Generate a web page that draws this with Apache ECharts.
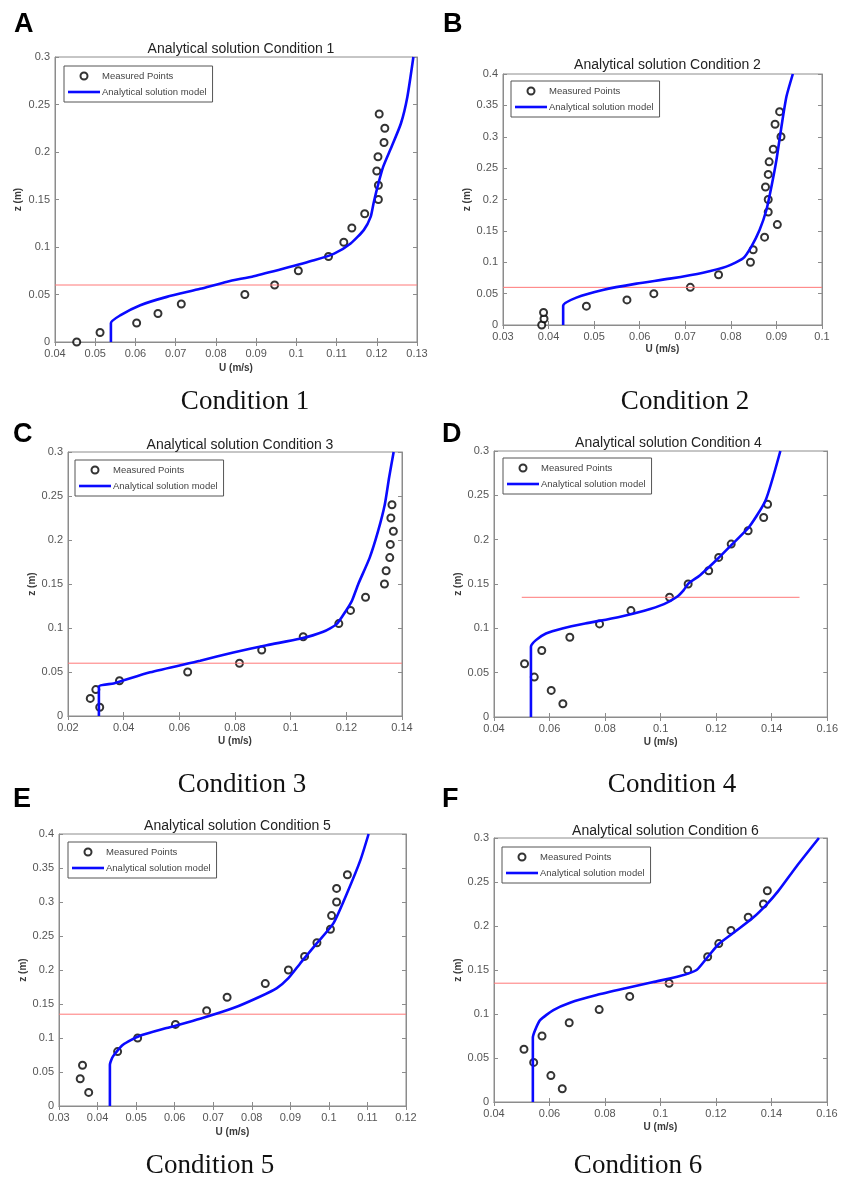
<!DOCTYPE html>
<html>
<head>
<meta charset="utf-8">
<script src="https://cdn.jsdelivr.net/npm/echarts@6/dist/echarts.min.js"></script>
<style>
  html, body { margin: 0; padding: 0; background: #fff; }
  #chart { width: 841px; height: 1183px; }
</style>
</head>
<body>
<div id="chart"></div>
<script>
// measured points, [U (m/s), z (m)]
const measured1 = [[0.0454,0],[0.0512,0.01],[0.0603,0.02],[0.0656,0.03],[0.0714,0.04],[0.0872,0.05],[0.0946,0.06],[0.1005,0.075],[0.108,0.09],[0.1118,0.105],[0.1138,0.12],[0.117,0.135],[0.1204,0.15],[0.1204,0.165],[0.12,0.18],[0.1203,0.195],[0.1218,0.21],[0.122,0.225],[0.1206,0.24]];
const measured2 = [[0.0385,0],[0.039,0.01],[0.0389,0.02],[0.0483,0.03],[0.0572,0.04],[0.0631,0.05],[0.0711,0.06],[0.0773,0.08],[0.0843,0.1],[0.0849,0.12],[0.0874,0.14],[0.0902,0.16],[0.0882,0.18],[0.0882,0.2],[0.0876,0.22],[0.0882,0.24],[0.0884,0.26],[0.0893,0.28],[0.091,0.3],[0.0897,0.32],[0.0907,0.34]];
const measured3 = [[0.0314,0.01],[0.028,0.02],[0.03,0.03],[0.0385,0.04],[0.063,0.05],[0.0816,0.06],[0.0896,0.075],[0.1045,0.09],[0.1173,0.105],[0.1215,0.12],[0.1269,0.135],[0.1337,0.15],[0.1343,0.165],[0.1356,0.18],[0.1358,0.195],[0.1369,0.21],[0.136,0.225],[0.1364,0.24]];
const measured4 = [[0.0648,0.015],[0.0606,0.03],[0.0545,0.045],[0.051,0.06],[0.0572,0.075],[0.0673,0.09],[0.078,0.105],[0.0893,0.12],[0.1032,0.135],[0.1099,0.15],[0.1173,0.165],[0.1209,0.18],[0.1254,0.195],[0.1315,0.21],[0.1371,0.225],[0.1385,0.24]];
const measured5 = [[0.0377,0.02],[0.0355,0.04],[0.0361,0.06],[0.0452,0.08],[0.0504,0.1],[0.0602,0.12],[0.0683,0.14],[0.0736,0.16],[0.0835,0.18],[0.0895,0.2],[0.0937,0.22],[0.0969,0.24],[0.1004,0.26],[0.1007,0.28],[0.102,0.3],[0.102,0.32],[0.1048,0.34]];
const measured6 = [[0.0646,0.015],[0.0605,0.03],[0.0543,0.045],[0.0508,0.06],[0.0573,0.075],[0.0671,0.09],[0.0779,0.105],[0.0889,0.12],[0.1031,0.135],[0.1098,0.15],[0.117,0.165],[0.121,0.18],[0.1254,0.195],[0.1316,0.21],[0.1371,0.225],[0.1385,0.24]];

// analytical solution curves, [U (m/s), z (m)]
const model1 = [[0.0539,0],[0.0539,0.02],[0.0562,0.028],[0.0612,0.0387],[0.0678,0.0475],[0.0761,0.056],[0.0828,0.0635],[0.0894,0.0693],[0.0969,0.0774],[0.1044,0.086],[0.1094,0.093],[0.1135,0.1037],[0.1168,0.118],[0.1185,0.132],[0.1192,0.146],[0.1202,0.1636],[0.1216,0.1846],[0.1237,0.2058],[0.126,0.23],[0.1276,0.258],[0.1291,0.3]];
const model2 = [[0.0432,0],[0.0432,0.0308],[0.0461,0.0436],[0.0519,0.0558],[0.0593,0.0659],[0.0666,0.0739],[0.0739,0.0834],[0.079,0.093],[0.0827,0.1063],[0.0845,0.125],[0.0863,0.1514],[0.0878,0.1833],[0.0889,0.2205],[0.09,0.263],[0.0911,0.316],[0.0922,0.364],[0.0936,0.4]];
const model3 = [[0.0311,0],[0.0311,0.0333],[0.0364,0.037],[0.0495,0.0496],[0.0675,0.0628],[0.0794,0.0722],[0.0914,0.0805],[0.1033,0.0877],[0.1117,0.0957],[0.1165,0.1044],[0.12,0.1203],[0.1221,0.1316],[0.1243,0.15],[0.1284,0.18],[0.1314,0.21],[0.1338,0.24],[0.1354,0.2716],[0.137,0.3]];
const model4 = [[0.0533,0],[0.0533,0.0792],[0.0551,0.0867],[0.0587,0.0942],[0.0646,0.0999],[0.0728,0.1055],[0.0847,0.1126],[0.0941,0.1198],[0.1012,0.1273],[0.1059,0.1356],[0.1083,0.1431],[0.11,0.1506],[0.1142,0.16],[0.1201,0.177],[0.126,0.1956],[0.1319,0.2145],[0.1378,0.2445],[0.1431,0.3]];
const model5 = [[0.0432,0],[0.0432,0.0607],[0.044,0.073],[0.0466,0.09],[0.051,0.1033],[0.0579,0.1146],[0.0666,0.1283],[0.0752,0.144],[0.0822,0.1611],[0.0865,0.1734],[0.0895,0.188],[0.0926,0.21],[0.0969,0.2395],[0.1012,0.269],[0.1047,0.313],[0.1082,0.362],[0.1103,0.4]];
const model6 = [[0.054,0],[0.054,0.0733],[0.0548,0.0816],[0.0566,0.093],[0.0614,0.1044],[0.0674,0.1128],[0.077,0.1215],[0.0878,0.1295],[0.0974,0.1363],[0.107,0.1431],[0.113,0.15],[0.117,0.1648],[0.121,0.1796],[0.1274,0.1948],[0.1334,0.2096],[0.1382,0.2244],[0.1424,0.2396],[0.149,0.2677],[0.1571,0.3]];

// red reference heights
const refLine1 = [[0.04,0.06],[0.13,0.06]];
const refLine2 = [[0.03,0.06],[0.1,0.06]];
const refLine3 = [[0.02,0.06],[0.14,0.06]];
const refLine4 = [[0.05,0.135],[0.15,0.135]];
const refLine5 = [[0.03,0.135],[0.12,0.135]];
const refLine6 = [[0.04,0.135],[0.16,0.135]];

// axis ranges [min, max, step]
const xRanges = [[0.04,0.13,0.01],[0.03,0.1,0.01],[0.02,0.14,0.02],[0.04,0.16,0.02],[0.03,0.12,0.01],[0.04,0.16,0.02]];
const yRanges = [[0,0.3,0.05],[0,0.4,0.05],[0,0.3,0.05],[0,0.3,0.05],[0,0.4,0.05],[0,0.3,0.05]];

const titles = ['Analytical solution Condition 1','Analytical solution Condition 2','Analytical solution Condition 3','Analytical solution Condition 4','Analytical solution Condition 5','Analytical solution Condition 6'];
const captions = ['Condition 1','Condition 2','Condition 3','Condition 4','Condition 5','Condition 6'];
const letters = ['A','B','C','D','E','F'];

const measured = [measured1, measured2, measured3, measured4, measured5, measured6];
const models = [model1, model2, model3, model4, model5, model6];
const refLines = [refLine1, refLine2, refLine3, refLine4, refLine5, refLine6];

// layout per panel
const layout = [
  { grid: [55, 57, 362, 285], titleTop: 37, legend: [64, 66], cap: [245, 402], letter: [14, 11], xGap: 21, yGap: 32 },
  { grid: [503, 74, 319, 251], titleTop: 53, legend: [511, 81], cap: [685, 402], letter: [443, 11], xGap: 19, yGap: 27 },
  { grid: [68, 452, 334, 264], titleTop: 433, legend: [75, 460], cap: [242, 785], letter: [13, 421], xGap: 20, yGap: 29 },
  { grid: [494, 451, 339, 266], titleTop: 431, legend: [503, 458], cap: [672, 785], letter: [442, 421], xGap: 20, yGap: 29 },
  { grid: [59, 834, 347, 272], titleTop: 814, legend: [68, 842], cap: [210, 1166], letter: [13, 786], xGap: 21, yGap: 28 },
  { grid: [494, 838, 333, 264], titleTop: 819, legend: [502, 847], cap: [638, 1166], letter: [442, 786], xGap: 20, yGap: 30 }
];

const axisGray = '#8c8c8c';
const fmt = v => String(+v.toFixed(4));

var chartDom = document.getElementById('chart');
var myChart = echarts.init(chartDom);

const grid = [], xAxis = [], yAxis = [], series = [], title = [], legend = [], graphic = [];

layout.forEach((p, i) => {
  const [l, t, w, h] = p.grid;
  grid.push({ left: l, top: t, width: w, height: h, show: true, borderColor: axisGray, borderWidth: 1, backgroundColor: '#fff' });

  const [xmin, xmax, xstep] = xRanges[i];
  const [ymin, ymax, ystep] = yRanges[i];
  const base = {
    type: 'value', gridIndex: i, splitLine: { show: false },
    axisLine: { show: true, lineStyle: { color: axisGray } },
    axisTick: { show: true, inside: true, length: 4, lineStyle: { color: axisGray } }
  };
  xAxis.push(Object.assign({}, base, {
    position: 'bottom', min: xmin, max: xmax, interval: xstep,
    name: 'U (m/s)', nameLocation: 'middle', nameGap: p.xGap,
    nameTextStyle: { fontSize: 10, fontWeight: 'bold', color: '#3a3a3a', fontFamily: 'Liberation Sans, Arial' },
    axisLabel: { color: '#555', fontSize: 11, margin: 6, fontFamily: 'Liberation Sans, Arial', formatter: fmt }
  }));
  xAxis.push(Object.assign({}, base, {
    position: 'top', min: xmin, max: xmax, interval: xstep, axisLabel: { show: false }
  }));
  yAxis.push(Object.assign({}, base, {
    position: 'left', min: ymin, max: ymax, interval: ystep,
    name: 'z (m)', nameLocation: 'middle', nameGap: p.yGap,
    nameTextStyle: { fontSize: 10, fontWeight: 'bold', color: '#3a3a3a', fontFamily: 'Liberation Sans, Arial' },
    axisLabel: { color: '#555', fontSize: 11, margin: 5, fontFamily: 'Liberation Sans, Arial', formatter: fmt }
  }));
  yAxis.push(Object.assign({}, base, {
    position: 'right', min: ymin, max: ymax, interval: ystep, axisLabel: { show: false }
  }));

  series.push({
    name: 'Reference height', type: 'line', xAxisIndex: 2 * i, yAxisIndex: 2 * i,
    data: refLines[i], symbol: 'none', silent: true,
    lineStyle: { color: '#ff7878', width: 1 }
  });
  series.push({
    name: 'Analytical solution model', type: 'line', xAxisIndex: 2 * i, yAxisIndex: 2 * i,
    data: models[i], symbol: 'none', smooth: 0.2,
    lineStyle: { color: '#0a0aff', width: 2.6 }, itemStyle: { color: '#0a0aff' }
  });
  series.push({
    name: 'Measured Points', type: 'scatter', xAxisIndex: 2 * i, yAxisIndex: 2 * i,
    data: measured[i], symbol: 'emptyCircle', symbolSize: 7,
    itemStyle: { color: '#000', borderColor: '#000', borderWidth: 2 }
  });

  title.push({
    text: titles[i], left: l + w / 2, top: p.titleTop, textAlign: 'center',
    textStyle: { fontSize: 14, fontWeight: 'normal', color: '#222', fontFamily: 'Liberation Sans, Arial' }
  });

  legend.push({
    left: p.legend[0], top: p.legend[1], orient: 'vertical', selectedMode: false,
    data: [
      { name: 'Measured Points', icon: 'emptyCircle', itemStyle: { color: '#000', borderWidth: 2 } },
      { name: 'Analytical solution model', icon: 'path://M0,0H32V2.6H0Z' }
    ],
    itemWidth: 32, itemHeight: 7, itemGap: 6, padding: [5, 6, 5, 4],
    borderColor: '#555', borderWidth: 1, backgroundColor: '#fff',
    textStyle: { fontSize: 9.5, color: '#444', padding: [0, 0, 0, -3], fontFamily: 'Liberation Sans, Arial' }
  });

  graphic.push({
    type: 'text', left: p.letter[0], top: p.letter[1],
    style: { text: letters[i], fontSize: 27, fontWeight: 'bold', fill: '#000', fontFamily: 'Liberation Sans, Arial' }
  });
  graphic.push({
    type: 'text', x: p.cap[0], y: p.cap[1],
    style: { text: captions[i], fontSize: 27, fill: '#111', fontFamily: 'Liberation Serif, Times New Roman, serif', align: 'center', verticalAlign: 'middle' }
  });
});

var option = {
  backgroundColor: '#fff',
  animation: false,
  title: title,
  legend: legend,
  grid: grid,
  xAxis: xAxis,
  yAxis: yAxis,
  series: series,
  graphic: graphic
};

myChart.setOption(option);
</script>
</body>
</html>
